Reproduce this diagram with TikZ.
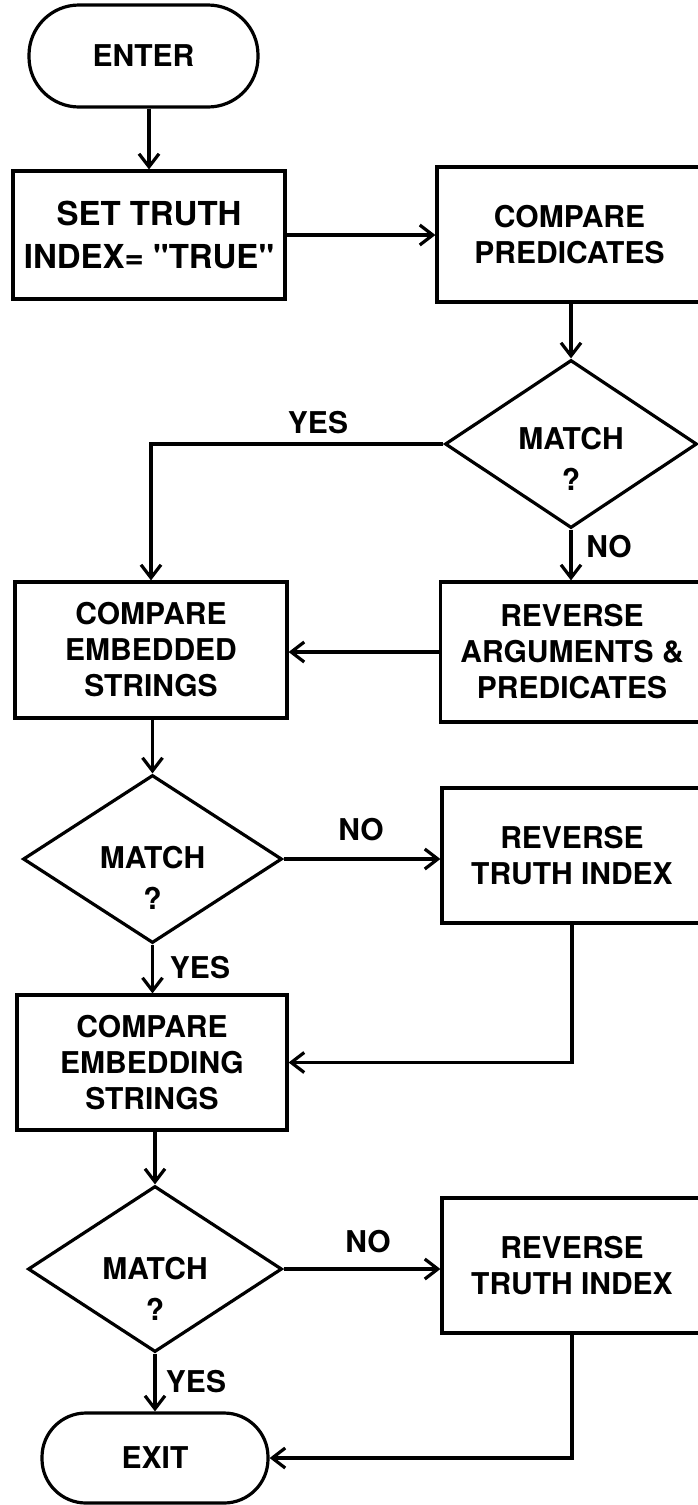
\documentclass[tikz,border=0pt]{standalone}
\usepackage{fontspec}
\newfontfamily\heros{TeX Gyre Heros}
\usetikzlibrary{shapes.geometric,arrows.meta}
\begin{document}
\begin{tikzpicture}[x=1pt,y=-1pt,
  every node/.style={font=\heros\fontsize{30}{36}\selectfont\bfseries, inner sep=0pt},
  procbox/.style={draw, line width=3.2pt, rectangle, align=center},
  termbox/.style={draw, line width=3.2pt, rectangle, align=center},
  decbox/.style={draw, line width=3.2pt, diamond, inner sep=0pt},
  dectext/.style={align=center, font=\heros\fontsize{30}{41}\selectfont\bfseries},
  lbl/.style={font=\heros\fontsize{30}{34}\selectfont\bfseries},
  arr/.style={line width=3.2pt, -{Straight Barb[length=13pt,width=20pt]}}
]
\useasboundingbox (0,0) rectangle (698,1505);
\fill[white] (0,0) rectangle (698,1505);

% nodes
\node[termbox, rounded corners=50pt, minimum width=229pt, minimum height=102pt] (enter) at (143.5,56) {ENTER};
\node[procbox, minimum width=272pt, minimum height=128pt, font=\heros\fontsize{33}{43}\selectfont\bfseries] (set) at (149,235) {SET TRUTH\\INDEX= "TRUE"};
\node[procbox, minimum width=265pt, minimum height=135pt] (cpred) at (569.5,234.5) {COMPARE\\PREDICATES};
\node[decbox, minimum width=252pt, minimum height=168pt] (d1) at (571,444) {};
\node[dectext] (d1t) at (571,459) {MATCH\\?};
\node[procbox, minimum width=263pt, minimum height=140pt] (rarg) at (572,652) {REVERSE\\ARGUMENTS \&\\PREDICATES};
\node[procbox, minimum width=272pt, minimum height=136pt] (cembd) at (151,650) {COMPARE\\EMBEDDED\\STRINGS};
\node[decbox, minimum width=259pt, minimum height=168pt] (d2) at (152.5,859) {};
\node[dectext] (d2t) at (152.5,878) {MATCH\\?};
\node[procbox, minimum width=260pt, minimum height=135pt] (rti1) at (572,855.5) {REVERSE\\TRUTH INDEX};
\node[procbox, minimum width=270pt, minimum height=135pt] (cembg) at (152,1062.5) {COMPARE\\EMBEDDING\\STRINGS};
\node[decbox, minimum width=254pt, minimum height=166pt] (d3) at (155,1269) {};
\node[dectext] (d3t) at (155,1289) {MATCH\\?};
\node[procbox, minimum width=260pt, minimum height=135pt] (rti2) at (572,1265.5) {REVERSE\\TRUTH INDEX};
\node[termbox, rounded corners=44pt, minimum width=226pt, minimum height=90pt] (exit) at (155,1458) {EXIT};

% labels
\node[lbl] (yes1) at (318,423) {YES};
\node[lbl] (no1) at (609,547) {NO};
\node[lbl] (no2) at (361,830) {NO};
\node[lbl] (yes2) at (200,968) {YES};
\node[lbl] (no3) at (368,1242) {NO};
\node[lbl] (yes3) at (196,1382) {YES};

% connectors
\draw[arr] (set.north |- enter.south) -- (set.north);
\draw[arr] (set.east) -- (set.east -| cpred.west);
\draw[arr] (cpred.south -| d1.north) -- (d1.north);
\draw[arr] (d1.west) -| (cembd.north);
\draw[arr] (d1.south) -- (d1.south |- rarg.north);
\draw[arr] (rarg.west) -- (rarg.west -| cembd.east);
\draw[arr] (d2.north |- cembd.south) -- (d2.north);
\draw[arr] (d2.east) -- (d2.east -| rti1.west);
\draw[arr] (d2.south) -- (d2.south |- cembg.north);
\draw[arr] (rti1.south) |- (cembg.east);
\draw[arr] (d3.north |- cembg.south) -- (d3.north);
\draw[arr] (d3.east) -- (d3.east -| rti2.west);
\draw[arr] (d3.south) -- (d3.south |- exit.north);
\draw[arr] (rti2.south) |- (exit.east);
\end{tikzpicture}
\end{document}
